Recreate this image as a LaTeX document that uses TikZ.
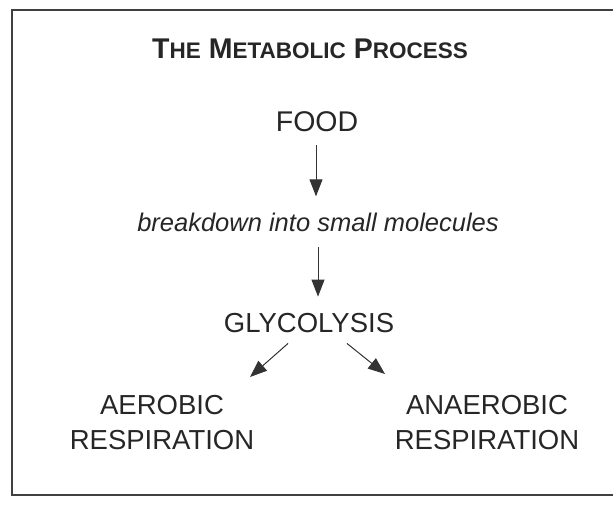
\documentclass[tikz,border=0pt]{standalone}
\usepackage{fontspec}
\setmainfont{Liberation Sans}
\usetikzlibrary{arrows.meta,calc}
\begin{document}
\begin{tikzpicture}[x=1pt,y=1pt,
  txt/.style={inner sep=0pt, text=black!85, font=\fontsize{27.5}{35}\selectfont},
  arr/.style={draw=black!80, line width=1pt, -{Triangle[length=17pt,width=13pt]}}]
\useasboundingbox (0,0) rectangle (613,506);
\draw[line width=2pt, black!75] (620,496) -- (12,496) -- (12,11) -- (620,11);
\node[txt, anchor=base, font=\bfseries\fontsize{28.5}{33}\selectfont] (title) at (310,447)
  {T{\fontsize{22.5}{25}\selectfont HE} M{\fontsize{22.5}{25}\selectfont ETABOLIC} P{\fontsize{22.5}{25}\selectfont ROCESS}};
\node[txt, anchor=base, font=\fontsize{28.5}{35}\selectfont] (food) at (317,374) {FOOD};
\node[txt, anchor=base, font=\itshape\fontsize{25.5}{35}\selectfont] (brk) at (318,274) {breakdown into small molecules};
\node[txt, anchor=base] (gly) at (309,173) {GLYCOLYSIS};
\node[txt, anchor=north, align=center] (aer) at (162,111) {AEROBIC\\RESPIRATION};
\node[txt, anchor=north, align=center] (ana) at (487,111) {ANAEROBIC\\RESPIRATION};
\draw[arr] ([xshift=-1pt,yshift=-13pt]food.south) -- ([xshift=-2pt,yshift=17pt]brk.north);
\draw[arr] ([yshift=-15pt]brk.south) -- ([yshift=17pt]brk.south |- gly.north);
\draw[arr] ([xshift=-21pt,yshift=-10pt]gly.south) -- ([xshift=88pt,yshift=18pt]aer.north);
\draw[arr] ([xshift=38pt,yshift=-10pt]gly.south) -- ([xshift=-102pt,yshift=21pt]ana.north);
\end{tikzpicture}
\end{document}
